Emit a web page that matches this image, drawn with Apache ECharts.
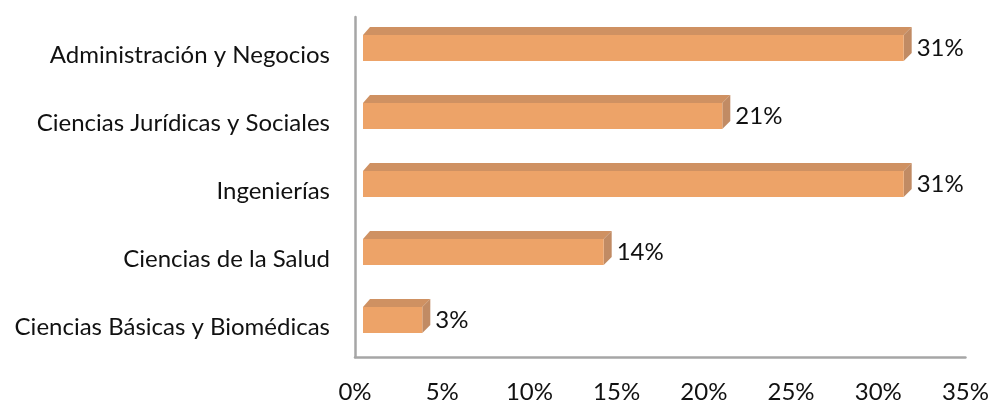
<!DOCTYPE html>
<html>
<head>
<meta charset="utf-8">
<script src="https://cdn.jsdelivr.net/npm/echarts@6/dist/echarts.min.js"></script>
<style>
  html, body { margin: 0; padding: 0; background: #fff; }
  #chart { width: 992px; height: 404px; }
</style>
</head>
<body>
<div id="chart"></div>
<script>
// Distribución por área (barras 3D horizontales)
const categories = [
  'Ciencias Básicas y Biomédicas',
  'Ciencias de la Salud',
  'Ingenierías',
  'Ciencias Jurídicas y Sociales',
  'Administración y Negocios'
]
const percents = [3.4, 13.8, 31.0, 20.6, 31.0]
const xTicks = [0, 5, 10, 15, 20, 25, 30, 35]

const FONT = 'Lato'
const FONT_SIZE = 24
const DEPTH_X = 8   // desplazamiento cara frontal respecto al eje
const BACK_X = 7    // profundidad de la caja 3D
const BACK_Y = 8

const chart = echarts.init(document.getElementById('chart'))

const option = {
  animation: false,
  grid: { left: 355, right: 24.5, top: 17, bottom: 45, containLabel: false },
  xAxis: {
    type: 'value',
    min: 0,
    max: xTicks[xTicks.length - 1],
    interval: 5,
    splitLine: { show: false },
    axisTick: { show: false },
    axisLine: { show: true, lineStyle: { color: '#a6a6a6', width: 2.5 } },
    axisLabel: {
      margin: 23,
      fontFamily: FONT,
      fontSize: FONT_SIZE,
      color: '#111',
      formatter: v => v + '%'
    }
  },
  yAxis: {
    type: 'category',
    data: categories,
    axisTick: { show: false },
    axisLine: { show: true, lineStyle: { color: '#a6a6a6', width: 2.5 } },
    axisLabel: {
      margin: 25,
      fontFamily: FONT,
      fontSize: FONT_SIZE,
      color: '#111',
      verticalAlign: 'top',
      lineHeight: 8
    }
  },
  series: [{
    type: 'custom',
    data: percents.map((v, i) => [v, i]),
    encode: { x: 0, y: 1 },
    renderItem: (params, api) => {
      const v = api.value(0)
      const idx = api.value(1)
      const p0 = api.coord([0, idx])
      const p1 = api.coord([v, idx])
      const band = api.size([0, 1])[1]
      const h = band * 0.38
      const x0 = p0[0] + DEPTH_X
      const x1 = p1[0] + DEPTH_X
      const yc = p0[1] - 3
      const yt = yc - h / 2
      const yb = yc + h / 2
      return {
        type: 'group',
        children: [
          {
            type: 'polygon',
            shape: { points: [[x0, yt], [x0 + BACK_X, yt - BACK_Y], [x1 + BACK_X + 1, yt - BACK_Y], [x1, yt]] },
            style: { fill: '#cf9162' }
          },
          {
            type: 'polygon',
            shape: { points: [[x1, yt], [x1 + BACK_X + 1, yt - BACK_Y], [x1 + BACK_X + 1, yb - BACK_Y], [x1, yb]] },
            style: { fill: '#c18b64' }
          },
          {
            type: 'rect',
            shape: { x: x0, y: yt, width: x1 - x0, height: h },
            style: { fill: '#eda368' }
          },
          {
            type: 'text',
            style: {
              text: Math.round(v) + '%',
              x: x1 + BACK_X + 6,
              y: yc,
              verticalAlign: 'middle',
              align: 'left',
              fontFamily: FONT,
              fontSize: FONT_SIZE,
              fill: '#111'
            }
          }
        ]
      }
    }
  }]
}

chart.setOption(option)
window.addEventListener('resize', () => chart.resize())
</script>
</body>
</html>
